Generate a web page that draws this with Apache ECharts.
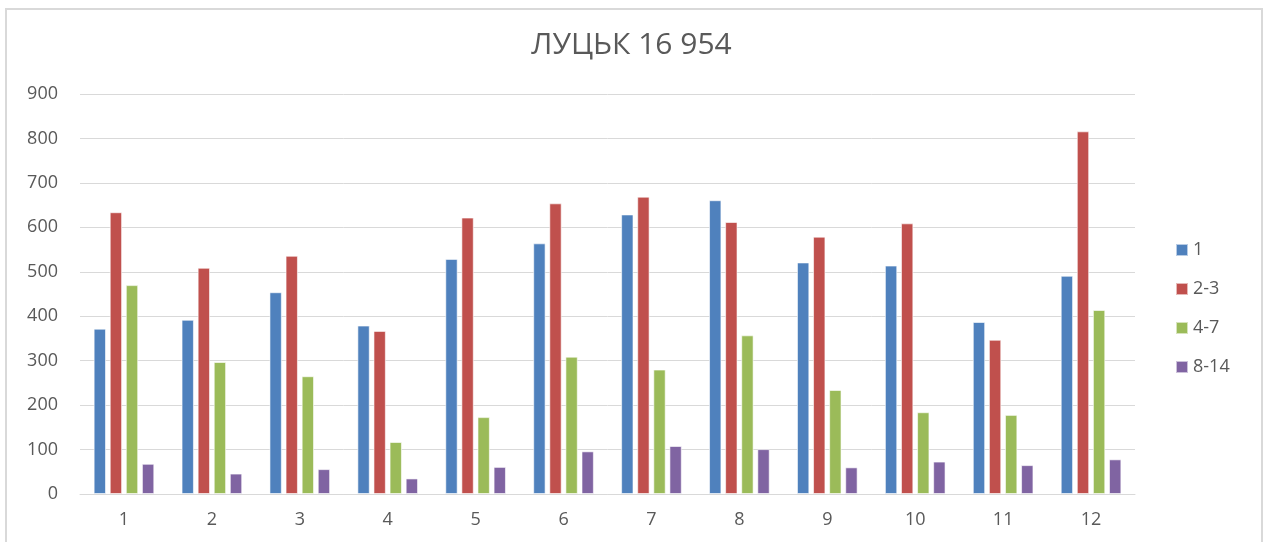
<!DOCTYPE html>
<html>
<head>
<meta charset="utf-8">
<script src="https://cdn.jsdelivr.net/npm/echarts@6/dist/echarts.min.js"></script>
<style>
  html, body { margin: 0; padding: 0; background: #fff; }
  #frame { position: absolute; left: 5px; top: 8px; width: 1258px; height: 560px; border: 2px solid #D9D9D9; box-sizing: border-box; }
  #chart { position: absolute; left: 0; top: 0; width: 1263px; height: 542px; }
</style>
</head>
<body>
<div id="frame"></div>
<div id="chart"></div>
<script>
const titleText = 'ЛУЦЬК 16 954';
const categories = ['1','2','3','4','5','6','7','8','9','10','11','12'];
const seriesNames = ['1', '2-3', '4-7', '8-14'];
const s1 = [372, 392, 454, 379, 529, 564, 629, 661, 521, 514, 387, 491];
const s23 = [634, 509, 536, 367, 622, 654, 669, 612, 579, 609, 347, 816];
const s47 = [470, 297, 265, 117, 173, 309, 280, 357, 234, 184, 178, 414];
const s814 = [68, 46, 56, 35, 61, 96, 108, 101, 60, 73, 65, 78];
const colors = ['#4F81BD', '#C0504D', '#9BBB59', '#8064A2'];

const font = "'Open Sans', 'DejaVu Sans', sans-serif";
const chart = echarts.init(document.getElementById('chart'), null, { renderer: 'canvas' });
const dataSets = [s1, s23, s47, s814];
chart.setOption({
  animation: false,
  color: colors,
  title: {
    text: titleText,
    left: 'center',
    top: 25,
    textStyle: { fontFamily: font, fontSize: 30, fontWeight: 'normal', color: '#595959' }
  },
  legend: {
    orient: 'vertical',
    left: 1170,
    top: 236,
    itemWidth: 12,
    itemHeight: 12,
    itemGap: 21,
    icon: 'rect',
    textStyle: { fontFamily: font, fontSize: 18, color: '#595959' },
    data: seriesNames
  },
  grid: { left: 80, right: 128, top: 94, bottom: 48, containLabel: false },
  xAxis: {
    type: 'category',
    data: categories,
    axisLine: { lineStyle: { color: '#D9D9D9', width: 1 } },
    axisTick: { show: false },
    axisLabel: { fontFamily: font, fontSize: 18, color: '#595959', margin: 17 }
  },
  yAxis: {
    type: 'value',
    min: 0, max: 900, interval: 100,
    axisLine: { show: false },
    axisTick: { show: false },
    splitLine: { lineStyle: { color: '#D9D9D9', width: 1 } },
    axisLabel: { fontFamily: font, fontSize: 18, color: '#595959', margin: 22 }
  },
  series: seriesNames.map((n, i) => ({
    name: n,
    type: 'bar',
    data: dataSets[i],
    barGap: '30%',
    barCategoryGap: '31%',
    itemStyle: { color: colors[i], borderColor: 'rgba(255,255,255,0.6)', borderWidth: 1 }
  }))
});
</script>
</body>
</html>
